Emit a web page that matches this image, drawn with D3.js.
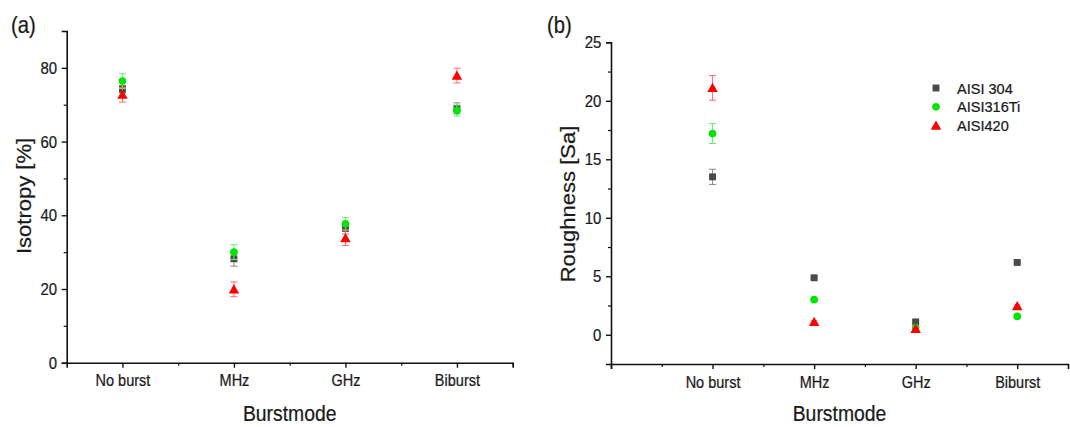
<!DOCTYPE html>
<html><head><meta charset="utf-8">
<script src="https://cdn.jsdelivr.net/npm/d3@7"></script>
<style>
body{margin:0;background:#fff;}
svg text{font-family:"Liberation Sans",Arial,sans-serif;fill:#1a1a1a;stroke:#1a1a1a;stroke-width:0.25;}
</style></head>
<body><svg id="c" width="1070" height="427"></svg>
<script>
const categories = ["No burst","MHz","GHz","Biburst"];
const seriesNames = ["AISI 304","AISI316Ti","AISI420"];
// Panel (a) isotropy [%]
const iso304   = [74.2, 28.2, 36.4, 69.0];
const iso316Ti = [76.4, 30.0, 37.7, 68.4];
const iso420   = [72.7, 19.9, 33.8, 77.9];
const isoErr304   = [1.0, 2.0, 1.5, 1.5];
const isoErr316Ti = [2.0, 2.0, 1.7, 1.5];
const isoErr420   = [2.0, 2.0, 2.0, 2.0];
const isoTicks = [0,20,40,60,80];
// Panel (b) roughness [Sa]
const rough304   = [13.5, 4.87, 1.1, 6.18];
const rough316Ti = [17.2, 3.0, 0.6, 1.57];
const rough420   = [21.1, 1.1, 0.5, 2.45];
const roughErr304   = [0.65, 0.1, 0.1, 0.1];
const roughErr316Ti = [0.85, 0.1, 0.1, 0.1];
const roughErr420   = [1.05, 0.1, 0.1, 0.1];
const roughTicks = [0,5,10,15,20,25];

const colors = ["#4a4a4a","#00e600","#ff0000"];
const errColors = ["#8a8a8a","#66f066","#ff6a6a"];
const SX = 0.88;
const svg = d3.select("#c");

function panel(o){
  const g = svg.append("g");
  const x = d3.scaleLinear().domain(o.xDomain).range([o.left,o.right]);
  const y = d3.scaleLinear().domain(o.yDomain).range([o.bottom,o.top]);
  const xa = g.append("g").attr("transform",`translate(0,${o.bottom})`)
    .call(d3.axisBottom(x).tickValues(o.xMajor).tickSize(5).tickFormat(d=>categories[d-1]||""));
  xa.select(".domain").attr("stroke","#111").attr("stroke-width",1.6);
  xa.selectAll(".tick line").attr("stroke","#111").attr("stroke-width",1.4);
  xa.selectAll("text").attr("font-size",16.5).attr("y",12).attr("fill","#1a1a1a")
    .attr("transform",`scale(${SX},1)`).attr("x",0);
  g.append("g").attr("transform",`translate(0,${o.bottom})`)
    .call(d3.axisBottom(x).tickValues(o.xMinor).tickSize(3).tickFormat(""))
    .call(s=>{s.select(".domain").remove();s.selectAll("line").attr("stroke","#111").attr("stroke-width",1.2);});
  const ya = g.append("g").attr("transform",`translate(${o.left},0)`)
    .call(d3.axisLeft(y).tickValues(o.yTicks).tickSize(5).tickPadding(6));
  ya.select(".domain").attr("stroke","#111").attr("stroke-width",1.6);
  ya.selectAll(".tick line").attr("stroke","#111").attr("stroke-width",1.4);
  ya.selectAll("text").attr("font-size",17).attr("fill","#1a1a1a").attr("transform",`scale(${SX},1)`);
  g.append("g").attr("transform",`translate(${o.left},0)`)
    .call(d3.axisLeft(y).tickValues(o.yMinor).tickSize(3).tickFormat(""))
    .call(s=>{s.select(".domain").remove();s.selectAll("line").attr("stroke","#111").attr("stroke-width",1.2);});
  const xt = (o.left+o.right)/2;
  g.append("text").attr("transform",`translate(${xt},421) scale(${SX},1)`)
    .attr("text-anchor","middle").attr("font-size",22).text("Burstmode");
  g.append("text").attr("transform",`translate(${o.ytX},${o.ytY}) rotate(-90) scale(1,${SX})`)
    .attr("text-anchor","middle").attr("font-size",22).text(o.yTitle);
  g.append("text").attr("transform",`translate(${o.labX},33) scale(${SX},1)`)
    .attr("font-size",23).text(o.label);
  o.series.forEach((vals,si)=>{
    const err = o.errs[si];
    const sg = g.append("g");
    vals.forEach((v,i)=>{
      const cx = x(i+1), e = err[i];
      const eg = sg.append("g").attr("stroke",errColors[si]).attr("stroke-width",1);
      eg.append("line").attr("x1",cx).attr("x2",cx).attr("y1",y(v-e)).attr("y2",y(v+e));
      [v-e,v+e].forEach(t=>eg.append("line").attr("x1",cx-3.5).attr("x2",cx+3.5).attr("y1",y(t)).attr("y2",y(t)));
    });
    const sym = [d3.symbolSquare,d3.symbolCircle,d3.symbolTriangle][si];
    const size = [48,46,48][si];
    sg.selectAll("path.m").data(vals).join("path").attr("class","m")
      .attr("d",d3.symbol(sym,size))
      .attr("transform",(v,i)=>`translate(${x(i+1)},${y(v)+(si===2?1:0)})`)
      .attr("fill",colors[si]);
  });
  return {x,y,g};
}

panel({
  xDomain:[0.5,4.5], yDomain:[0,90], left:66.7, right:512.7, top:31, bottom:362.7,
  xMajor:[1,2,3,4], xMinor:[1.5,2.5,3.5,4.5],
  yTicks:isoTicks, yMinor:[10,30,50,70],
  yTitle:"Isotropy [%]", ytX:31, ytY:196, label:"(a)", labX:11,
  series:[iso304,iso316Ti,iso420], errs:[isoErr304,isoErr316Ti,isoErr420]
});
panel({
  xDomain:[0,4.5], yDomain:[-2.5,25], left:611, right:1068, top:42.3, bottom:364,
  xMajor:[0,1,2,3,4], xMinor:[0.5,1.5,2.5,3.5],
  yTicks:roughTicks, yMinor:[2.5,7.5,12.5,17.5,22.5],
  yTitle:"Roughness [Sa]", ytX:575, ytY:204, label:"(b)", labX:547,
  series:[rough304,rough316Ti,rough420], errs:[roughErr304,roughErr316Ti,roughErr420]
});
const lg = svg.append("g");
seriesNames.forEach((n,i)=>{
  const yy = 88 + i*18.8;
  const sym = [d3.symbolSquare,d3.symbolCircle,d3.symbolTriangle][i];
  lg.append("path").attr("d",d3.symbol(sym,[48,46,48][i])).attr("transform",`translate(936,${yy+(i===2?1:0)})`).attr("fill",colors[i]);
  lg.append("text").attr("transform",`translate(957,${yy+5.5}) scale(0.97,1)`).attr("font-size",15).text(n);
});
</script></body></html>
